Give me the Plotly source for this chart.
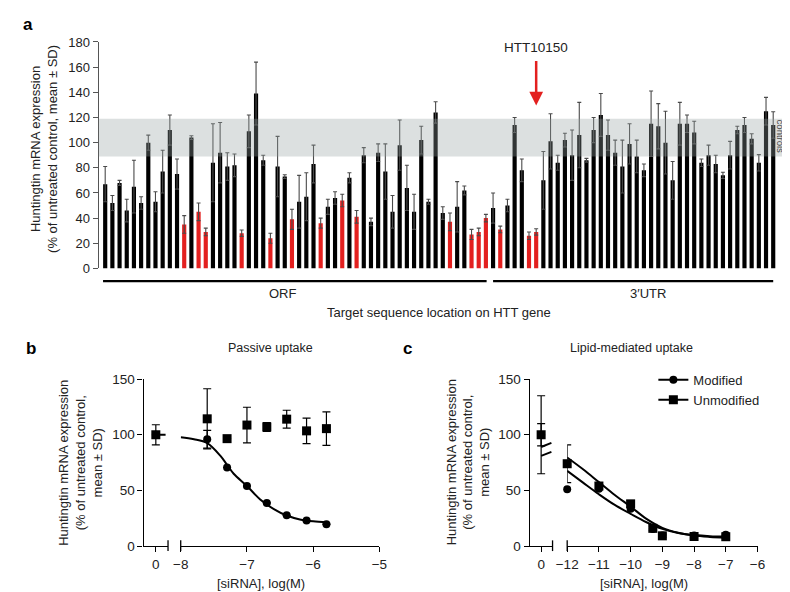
import plotly.graph_objects as go

# ---------------- Panel a data ----------------
bar_values = [67, 52, 68, 46, 65, 52, 100, 53, 77, 110, 75, 35, 104, 45, 29, 84, 92, 81, 82, 28, 109, 139, 86, 24, 81,
              73, 39, 53, 57, 83, 36, 49, 56, 54, 72, 41, 90, 37, 92, 77, 45, 98, 64, 45, 102, 53, 124, 44, 37, 49, 62, 27, 29, 40,
              48, 31, 50, 114, 78, 26, 29, 70, 101, 84, 102, 90, 106, 86, 110, 122, 106, 92, 81, 99, 89, 78, 115, 113, 100, 70,
              115, 115, 108, 84, 90, 83, 74, 90, 110, 114, 103, 84, 125, 114]
bar_errors = [14, 6, 2, 9, 21, 5, 6, 8, 17, 12, 12, 7, 1.5, 7, 3, 31, 24, 11, 9, 2.5, 13, 25, 4, 4, 24,
              1.5, 8, 21, 19, 15, 4, 6, 5, 5, 4, 5, 6, 3, 7, 22, 13, 20, 18, 14, 11, 2, 8.5, 5, 7, 20, 3.5, 4, 3, 3,
              12, 2.6, 5, 6, 9, 3, 2.5, 23, 22, 6, 5.5, 20, 26, 1.5, 10, 17, 12, 10, 21, 16, 13, 5, 26, 18, 25, 15,
              17, 7, 9, 3, 8, 7, 2.5, 11, 3, 6, 4, 6.5, 11, 10.5]
highlighted = [12, 14, 15, 20, 24, 27, 31, 34, 36, 49, 52, 53, 54, 56, 60, 61]
bar_ids = list(range(1, len(bar_values) + 1))
orf_range = [1, 54]
utr_range = [55, 94]
control_band = [89, 119]
lead_bar = 61  # HTT10150

# ---------------- Panel b data (passive uptake) ----------------
b_conc = [-7.6, -7.3, -7.0, -6.7, -6.4, -6.1, -5.8]
b_mod = [96, 70.6, 54, 38.8, 27.7, 23, 19.8]
b_mod_err = [8, 0, 0, 0, 0, 0, 0]
b_unmod = [114.3, 96.5, 108.7, 107, 114, 103.5, 105.5]
b_unmod_err = [27, 0, 16, 4, 8, 11.5, 15]
b_ctrl = [100]
b_ctrl_err = [9]
b_fit_x = [-8, -7.8, -7.6, -7.4, -7.3, -7.2, -7.0, -6.8, -6.6, -6.4, -6.2, -6.0, -5.8]
b_fit_y = [97.7, 96, 92.5, 81, 73, 65, 54, 42, 33.5, 27.5, 24, 22.3, 21.5]

# ---------------- Panel c data (lipid-mediated uptake) ----------------
c_conc = [-12, -11, -10, -9.3, -9, -8, -7]
c_mod = [51, 51.6, 33.5, 15.5, 9.5, 9.6, 10.2]
c_unmod = [74, 54, 38, 16, 9.3, 8.7, 8.5]
c_unmod_err = [17, 3, 3, 2, 1.5, 1, 1]
c_ctrl = [100]
c_ctrl_unmod_err = [35]
c_ctrl_mod_err = [10]
c_fit_x = [-12, -11.5, -11, -10.5, -10, -9.5, -9, -8.5, -8, -7.5, -7]
c_fit_unmod = [79.6, 69, 57.5, 46, 35.5, 24.5, 16.5, 12, 9.5, 8.3, 7.6]
c_fit_mod = [67.6, 57, 46.6, 37, 29, 21.5, 15.5, 11.8, 10, 9, 8.6]
c_stub_x = [0, 0.45]
c_stub_unmod = [89, 92.7]
c_stub_mod = [81, 84.6]

W, H = 790, 592
FONT = "Liberation Sans, Arial, sans-serif"
RED = "#e3201f"


def xd(a, b):
    return [a / W, b / W]


def yd(top, bottom):
    return [1 - bottom / H, 1 - top / H]


def py(p):
    return 1 - p / H


fig = go.Figure()

# ---- Panel a bars ----
colors = [RED if i in highlighted else "black" for i in bar_ids]
fig.add_trace(go.Bar(
    x=bar_ids, y=bar_values, marker=dict(color=colors, line=dict(width=0)),
    error_y=dict(type="data", array=bar_errors, visible=True, color="#4a4a4a", thickness=1.1, width=2),
    xaxis="x", yaxis="y", showlegend=False))


def sc(**kw):
    fig.add_trace(go.Scatter(cliponaxis=False, showlegend=False, **kw))


# ---- Panel b ----
sc(x=b_fit_x, y=b_fit_y, mode="lines", line=dict(color="black", width=2, shape="spline"), xaxis="x3", yaxis="y2")
sc(x=[0], y=b_ctrl, mode="markers", marker=dict(symbol="circle", size=8, color="black"),
   error_y=dict(type="data", array=b_ctrl_err, color="black", thickness=1.2, width=4), xaxis="x2", yaxis="y2")
sc(x=[0, 0.4], y=b_ctrl * 2, mode="lines", line=dict(color="black", width=2), xaxis="x2", yaxis="y2")
sc(x=[0], y=b_ctrl, mode="markers", marker=dict(symbol="square", size=9, color="black"), xaxis="x2", yaxis="y2")
sc(x=b_conc, y=b_mod, mode="markers", marker=dict(symbol="circle", size=8, color="black"),
   error_y=dict(type="data", array=b_mod_err, color="black", thickness=1.2, width=4), xaxis="x3", yaxis="y2")
sc(x=b_conc, y=b_unmod, mode="markers", marker=dict(symbol="square", size=9, color="black"),
   error_y=dict(type="data", array=b_unmod_err, color="black", thickness=1.2, width=4), xaxis="x3", yaxis="y2")

# ---- Panel c ----
sc(x=c_fit_x, y=c_fit_unmod, mode="lines", line=dict(color="black", width=2, shape="spline"), xaxis="x5", yaxis="y3")
sc(x=c_fit_x, y=c_fit_mod, mode="lines", line=dict(color="black", width=2, shape="spline"), xaxis="x5", yaxis="y3")
sc(x=c_stub_x, y=c_stub_unmod, mode="lines", line=dict(color="black", width=2), xaxis="x4", yaxis="y3")
sc(x=c_stub_x, y=c_stub_mod, mode="lines", line=dict(color="black", width=2), xaxis="x4", yaxis="y3")
sc(x=[0], y=c_ctrl, mode="markers", marker=dict(symbol="circle", size=8, color="black"),
   error_y=dict(type="data", array=c_ctrl_mod_err, color="black", thickness=1.2, width=4), xaxis="x4", yaxis="y3")
sc(x=[0], y=c_ctrl, mode="markers", marker=dict(symbol="square", size=9, color="black"),
   error_y=dict(type="data", array=c_ctrl_unmod_err, color="black", thickness=1.2, width=4), xaxis="x4", yaxis="y3")
sc(x=c_conc, y=c_mod, mode="markers", marker=dict(symbol="circle", size=8, color="black"), xaxis="x5", yaxis="y3")
sc(x=c_conc, y=c_unmod, mode="markers", marker=dict(symbol="square", size=9, color="black"),
   error_y=dict(type="data", array=c_unmod_err, color="black", thickness=1.2, width=4), xaxis="x5", yaxis="y3")
# legend entries
fig.add_trace(go.Scatter(x=[None], y=[None], mode="lines+markers", name="Modified",
                         marker=dict(symbol="circle", size=8, color="black"), line=dict(color="black", width=2),
                         xaxis="x5", yaxis="y3"))
fig.add_trace(go.Scatter(x=[None], y=[None], mode="lines+markers", name="Unmodified",
                         marker=dict(symbol="square", size=9, color="black"), line=dict(color="black", width=2),
                         xaxis="x5", yaxis="y3"))

tickfont = dict(family=FONT, size=13.5, color="#222")
ax_common = dict(showline=True, linecolor="black", linewidth=1.3, ticks="outside", ticklen=5,
                 tickcolor="black", tickwidth=1.3, showgrid=False, zeroline=False, tickfont=tickfont)

fig.update_layout(
    width=W, height=H, margin=dict(l=0, r=0, t=0, b=0),
    paper_bgcolor="white", plot_bgcolor="rgba(0,0,0,0)",
    font=dict(family=FONT, size=13, color="#222"),
    bargap=0.42,
    xaxis=dict(domain=xd(81.7, 787), range=[0.1, 95.93], showline=False, showticklabels=False,
               ticks="", showgrid=False, zeroline=False, anchor="y"),
    yaxis=dict(domain=yd(27.7, 260), range=[0, 180], dtick=20, anchor="x",
               **{**ax_common, "linecolor": "#555", "tickcolor": "#555",
                  "tickfont": dict(family=FONT, size=13, color="#222")}),
    xaxis2=dict(domain=xd(127.7, 152.7), range=[-0.5, 0.5], tickvals=[0], anchor="y2", **ax_common),
    xaxis3=dict(domain=xd(165.7, 369.3), range=[-8, -5], dtick=1, anchor="y2", **ax_common),
    yaxis2=dict(domain=yd(373.5, 545), range=[0, 150], tickvals=[0, 50, 100, 150], anchor="x2", **ax_common),
    xaxis4=dict(domain=xd(523.3, 546.7), range=[-0.5, 0.5], tickvals=[0], anchor="y3", **ax_common),
    xaxis5=dict(domain=xd(561.7, 756.7), range=[-12, -6], dtick=1, anchor="y3", **ax_common),
    yaxis3=dict(domain=yd(373.5, 545), range=[0, 150], tickvals=[0, 50, 100, 150], anchor="x4", **ax_common),
    legend=dict(x=650 / W, y=py(359), xanchor="left", yanchor="top", bgcolor="rgba(0,0,0,0)",
                font=dict(family=FONT, size=13, color="#222"), tracegroupgap=0, itemwidth=30),
)

shapes = [
    dict(type="rect", xref="x domain", x0=0, x1=1, yref="y", y0=control_band[0], y1=control_band[1],
         fillcolor="rgba(150,160,160,0.33)", line=dict(width=0), layer="above"),
    dict(type="line", xref="x", x0=orf_range[0] - 0.3, x1=orf_range[1] + 0.1, yref="paper",
         y0=py(273), y1=py(273), line=dict(color="black", width=2.2)),
    dict(type="line", xref="x", x0=utr_range[0], x1=utr_range[1], yref="paper",
         y0=py(273), y1=py(273), line=dict(color="black", width=2.2)),
]
# axis break marks
for xr, xv in [("x2 domain", 1), ("x3 domain", 0), ("x4 domain", 1), ("x5 domain", 0)]:
    shapes.append(dict(type="line", xref=xr, x0=xv, x1=xv, yref="paper", y0=py(550), y1=py(539),
                       line=dict(color="black", width=1.3)))
fig.update_layout(shapes=shapes)

ann = []


def text(x, y, s, size=13, **kw):
    d = dict(x=x / W, y=py(y), xref="paper", yref="paper", text=s, showarrow=False,
             font=dict(family=FONT, size=size, color=kw.pop("color", "#222")), xanchor="center", yanchor="middle")
    d.update(kw)
    ann.append(d)


ytitle_bc = "Huntingtin mRNA expression<br>(% of untreated control,<br>mean ± SD)"
text(9, 10, "<b>a</b>", size=17, color="black")
text(12, 342, "<b>b</b>", size=17, color="black")
text(398, 342, "<b>c</b>", size=17, color="black")
text(25, 137, "Huntingtin mRNA expression<br>(% of untreated control, mean ± SD)", textangle=-90)
text(271, 286, "ORF")
text(644, 286, "3′UTR")
text(430, 305, "Target sequence location on HTT gene")
text(780, 125, "controls", size=9.5, textangle=90, color="#444")
text(258, 342, "Passive uptake", size=12.5)
text(628, 342, "Lipid-mediated uptake", size=12.5)
text(63, 459, ytitle_bc, textangle=-90)
text(460, 459, ytitle_bc, textangle=-90)
text(248, 583, "[siRNA], log(M)")
text(640, 583, "[siRNA], log(M)")
ann.append(dict(x=lead_bar, xref="x", y=py(33), yref="paper", text="HTT10150", showarrow=False,
                font=dict(family=FONT, size=13.5, color="#222"), xanchor="center", yanchor="middle"))
ann.append(dict(x=lead_bar, xref="x", y=(260 - 93) / 1.29, yref="y", text="", showarrow=True,
                ax=0, ay=-46, arrowcolor=RED, arrowwidth=2.5, arrowhead=2, arrowsize=1.1))
fig.update_layout(annotations=ann)

fig.write_html("out.html")
